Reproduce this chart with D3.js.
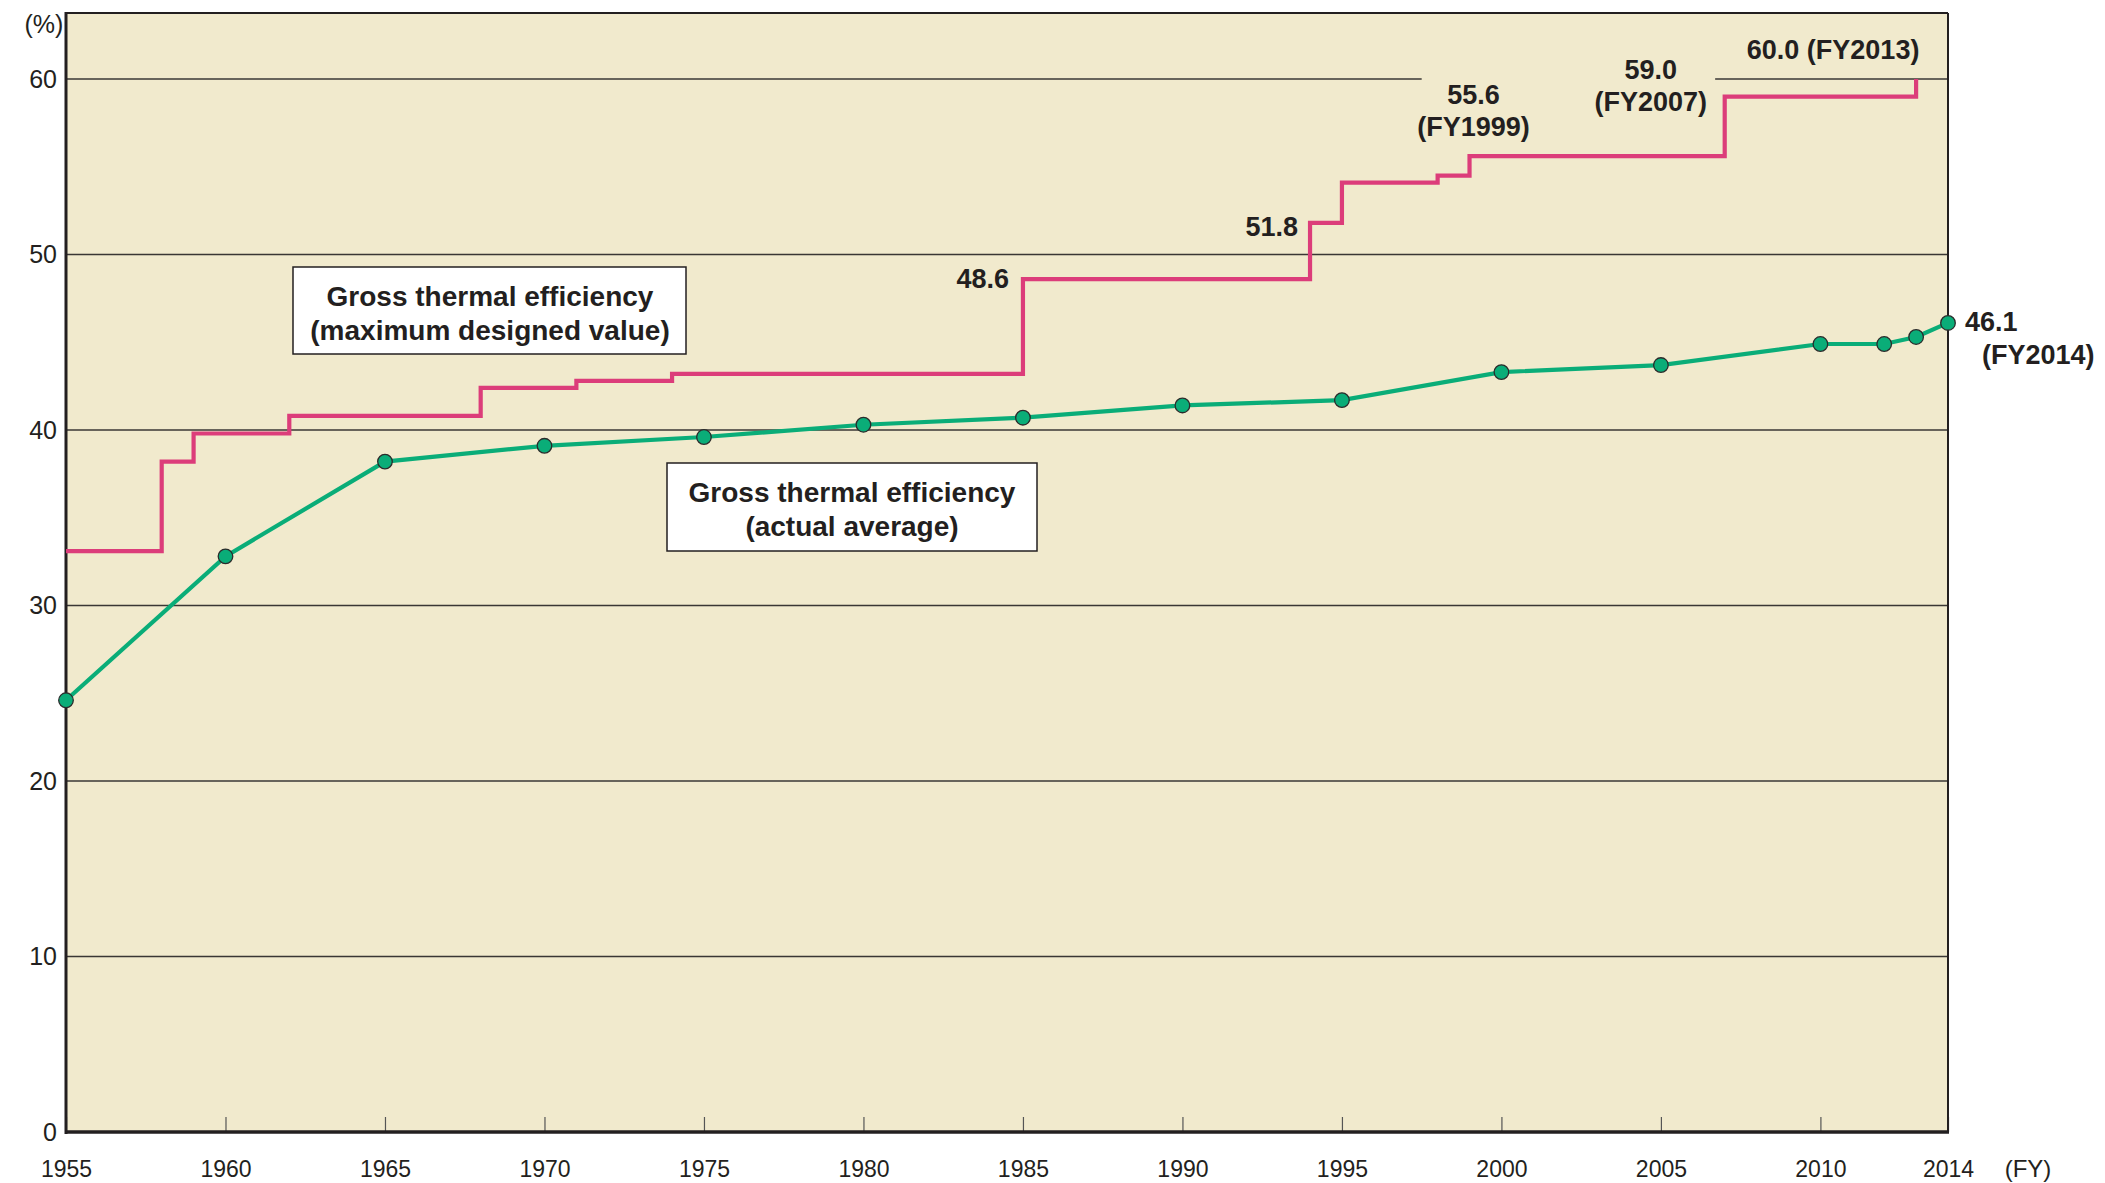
<!DOCTYPE html>
<html>
<head>
<meta charset="utf-8">
<script src="https://cdn.jsdelivr.net/npm/d3@7"></script>
<style>
  body { margin: 0; background: #fff; }
  text { font-family: "Liberation Sans", Arial, Helvetica, sans-serif; fill: #231f20; }
</style>
</head>
<body>
<svg id="chart" width="2105" height="1183"></svg>
<script>
// actual average (green, with markers)
var actualYears = [1955, 1960, 1965, 1970, 1975, 1980, 1985, 1990, 1995, 2000, 2005, 2010, 2012, 2013, 2014];
var actualValues = [24.6, 32.8, 38.2, 39.1, 39.6, 40.3, 40.7, 41.4, 41.7, 43.3, 43.7, 44.9, 44.9, 45.3, 46.1];

// maximum designed value (red, step)
var designYears = [1955, 1958, 1959, 1962, 1968, 1971, 1974, 1985, 1994, 1995, 1998, 1999, 2007, 2013];
var designValues = [33.1, 38.2, 39.8, 40.8, 42.4, 42.8, 43.2, 48.6, 51.8, 54.1, 54.5, 55.6, 59.0, 60.0];

var xTickYears = [1955, 1960, 1965, 1970, 1975, 1980, 1985, 1990, 1995, 2000, 2005, 2010, 2014];
var yTicks = [0, 10, 20, 30, 40, 50, 60];

var bg = "#f1eacd", red = "#dc3d7a", green = "#0aad78", ink = "#231f20";

var svg = d3.select("#chart");
var pLeft = 66, pRight = 1948, pTop = 13, pBottom = 1132;

var x = d3.scaleLinear().domain([1955, 2014]).range([pLeft, pRight]);
var y = d3.scaleLinear().domain([0, 60]).range([pBottom, 79]);

svg.append("rect").attr("x", pLeft).attr("y", pTop).attr("width", pRight - pLeft).attr("height", pBottom - pTop).attr("fill", bg);

// grid lines
svg.append("g").selectAll("line").data(yTicks.filter(function (d) { return d > 0; })).enter().append("line")
    .attr("x1", pLeft).attr("x2", pRight).attr("y1", function (d) { return y(d); }).attr("y2", function (d) { return y(d); })
    .attr("stroke", "#3a3734").attr("stroke-width", 1.4);
// gap in the 60 line behind the labels
svg.append("rect").attr("x", x(1997.5)).attr("y", y(60) - 3).attr("width", x(2006.7) - x(1997.5)).attr("height", 6).attr("fill", bg);

// x axis (inner ticks)
var xAxis = d3.axisBottom(x).tickValues(xTickYears).tickSizeInner(-15).tickSizeOuter(0).tickPadding(29).tickFormat(d3.format("d"));
var gx = svg.append("g").attr("transform", "translate(0," + pBottom + ")").call(xAxis);
gx.select(".domain").remove();
gx.selectAll(".tick line").attr("stroke", "#555").attr("stroke-width", 1.2);
gx.selectAll(".tick text").attr("font-size", 23).attr("fill", ink).style("font-family", "Liberation Sans, Arial, sans-serif");

// y axis
var yAxis = d3.axisLeft(y).tickValues(yTicks).tickSize(0).tickPadding(9);
var gy = svg.append("g").attr("transform", "translate(" + pLeft + ",0)").call(yAxis);
gy.select(".domain").remove();
gy.selectAll(".tick text").attr("font-size", 25).attr("fill", ink).style("font-family", "Liberation Sans, Arial, sans-serif");

// frame
svg.append("line").attr("x1", pLeft).attr("x2", pRight).attr("y1", pTop).attr("y2", pTop).attr("stroke", ink).attr("stroke-width", 2);
svg.append("line").attr("x1", pRight).attr("x2", pRight).attr("y1", pTop).attr("y2", pBottom).attr("stroke", ink).attr("stroke-width", 2);
svg.append("line").attr("x1", pLeft).attr("x2", pLeft).attr("y1", pTop - 1).attr("y2", pBottom + 2).attr("stroke", ink).attr("stroke-width", 3);
svg.append("line").attr("x1", pLeft - 1).attr("x2", pRight + 1).attr("y1", pBottom).attr("y2", pBottom).attr("stroke", ink).attr("stroke-width", 3.5);

svg.append("text").attr("x", 44).attr("y", 33).attr("text-anchor", "middle").attr("font-size", 25).text("(%)");
svg.append("text").attr("x", 2028).attr("y", pBottom + 45).attr("text-anchor", "middle").attr("font-size", 24).text("(FY)");

// design value step line
var designData = designYears.map(function (d, i) { return [d, designValues[i]]; });
var stepLine = d3.line().x(function (d) { return x(d[0]); }).y(function (d) { return y(d[1]); }).curve(d3.curveStepAfter);
svg.append("path").datum(designData).attr("d", stepLine).attr("fill", "none").attr("stroke", red).attr("stroke-width", 4.2);

// actual line
var actualData = actualYears.map(function (d, i) { return [d, actualValues[i]]; });
var line = d3.line().x(function (d) { return x(d[0]); }).y(function (d) { return y(d[1]); });
svg.append("path").datum(actualData).attr("d", line).attr("fill", "none").attr("stroke", green).attr("stroke-width", 4.2);
svg.append("g").selectAll("circle").data(actualData).enter().append("circle")
    .attr("cx", function (d) { return x(d[0]); }).attr("cy", function (d) { return y(d[1]); })
    .attr("r", 7.3).attr("fill", green).attr("stroke", "#2b2b2b").attr("stroke-width", 1.3);

// value labels
function lbl(tx, ty, s, anchor) {
    svg.append("text").attr("x", tx).attr("y", ty).attr("text-anchor", anchor || "middle")
        .attr("font-size", 27).attr("font-weight", "bold").text(s);
}
lbl(x(1985) - 14, y(48.6) + 9, "48.6", "end");
lbl(x(1994) - 12, y(51.8) + 13, "51.8", "end");
lbl(x(1999) + 4, y(55.6) - 52, "55.6");
lbl(x(1999) + 4, y(55.6) - 20, "(FY1999)");
lbl(x(2007) - 74, y(59.0) - 18, "59.0");
lbl(x(2007) - 74, y(59.0) + 14, "(FY2007)");
lbl(x(2013) - 83, y(60.0) - 20, "60.0 (FY2013)");
lbl(x(2014) + 17, y(46.1) + 8, "46.1", "start");
lbl(x(2014) + 34, y(46.1) + 41, "(FY2014)", "start");

// series name boxes
function box(bx, by, bw, bh, cx, lines) {
    svg.append("rect").attr("x", bx).attr("y", by).attr("width", bw).attr("height", bh)
        .attr("fill", "#fff").attr("stroke", ink).attr("stroke-width", 1.5);
    lines.forEach(function (s, i) {
        svg.append("text").attr("x", cx).attr("y", by + 39 + i * 34).attr("text-anchor", "middle")
            .attr("font-size", 28).attr("font-weight", "bold").text(s);
    });
}
box(293, 267, 393, 87, 490, ["Gross thermal efficiency", "(maximum designed value)"]);
box(667, 463, 370, 88, 852, ["Gross thermal efficiency", "(actual average)"]);
</script>
</body>
</html>
